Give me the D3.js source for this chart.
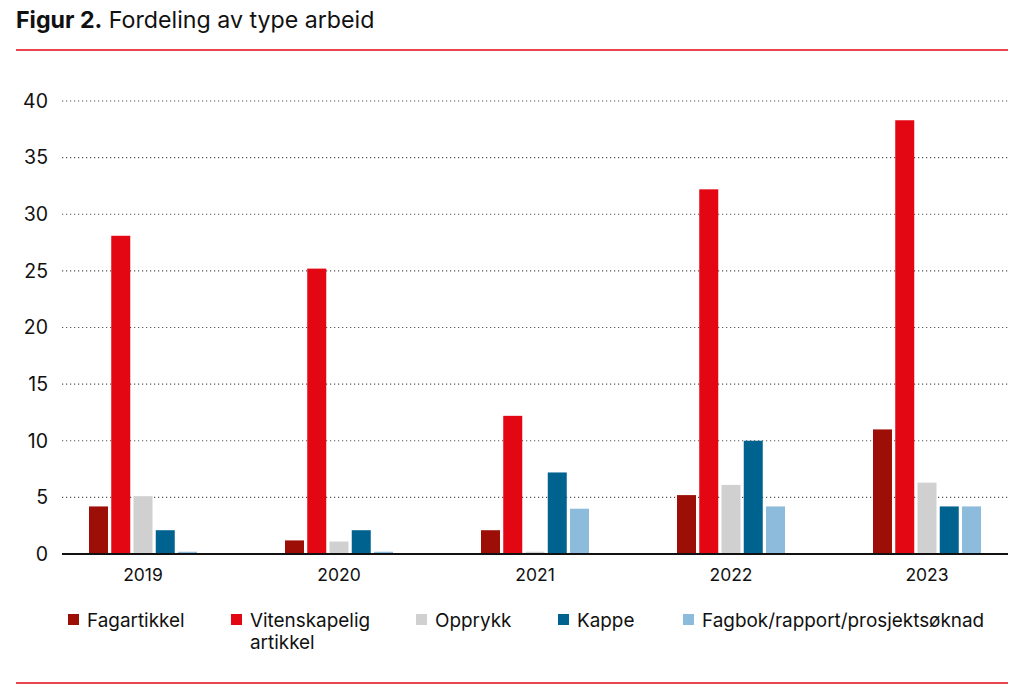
<!DOCTYPE html>
<html>
<head>
<meta charset="utf-8">
<script src="https://cdn.jsdelivr.net/npm/d3@7"></script>
<style>
  body { margin: 0; background: #fff; }
  text { font-family: Inter, "Noto Sans", sans-serif; fill: #111; }
</style>
</head>
<body>
<svg id="chart"></svg>
<script>
const years = ["2019", "2020", "2021", "2022", "2023"];
const series = ["Fagartikkel", "Vitenskapelig artikkel", "Opprykk", "Kappe", "Fagbok/rapport/prosjektsøknad"];
const fagartikkel = [4.2, 1.2, 2.1, 5.2, 11.0];
const vitenskapelig = [28.1, 25.2, 12.2, 32.2, 38.3];
const opprykk = [5.1, 1.1, 0.2, 6.1, 6.3];
const kappe = [2.1, 2.1, 7.2, 10.0, 4.2];
const fagbok = [0.2, 0.2, 4.0, 4.2, 4.2];
const yTicks = [0, 5, 10, 15, 20, 25, 30, 35, 40];
const colors = ["#9c0e06", "#e30613", "#d0d0d0", "#00638f", "#8cbbdc"];

const values = [fagartikkel, vitenskapelig, opprykk, kappe, fagbok];
const data = years.map((y, i) => ({
  year: y,
  vals: series.map((s, j) => ({ key: s, value: values[j][i] }))
}));

const width = 1024, height = 697;
const svg = d3.select("#chart").attr("width", width).attr("height", height);

// title + rules
const title = svg.append("text").attr("x", 16).attr("y", 28).style("font-size", "23.2px");
title.append("tspan").attr("font-weight", "bold").text("Figur 2.");
title.append("tspan").text(" Fordeling av type arbeid");
svg.append("line").attr("x1", 16).attr("x2", 1008).attr("y1", 50).attr("y2", 50)
  .attr("stroke", "#e30613").attr("stroke-width", 1.5);
svg.append("line").attr("x1", 16).attr("x2", 1008).attr("y1", 683).attr("y2", 683)
  .attr("stroke", "#e30613").attr("stroke-width", 1.5);

const axisLeft = 62, axisRight = 1008;

const y = d3.scaleLinear().domain([0, 40]).range([554, 101]);
const x0 = d3.scaleBand().domain(years).range([45, 1025]);
const x1 = d3.scaleBand().domain(series).range([0, 108]).paddingInner(0.146);
const groupOffset = (x0.bandwidth() - 108) / 2;

// gridlines
svg.append("g").selectAll("line")
  .data(yTicks.filter(t => t > 0))
  .join("line")
  .attr("x1", axisLeft).attr("x2", axisRight)
  .attr("y1", d => y(d)).attr("y2", d => y(d))
  .attr("stroke", "#555").attr("stroke-width", 1.2)
  .attr("stroke-dasharray", "1.2,2.8");

// y axis labels
const yAxis = d3.axisLeft(y).tickValues(yTicks).tickSize(0).tickPadding(14);
const yg = svg.append("g").attr("transform", `translate(${axisLeft},0)`).call(yAxis);
yg.select(".domain").remove();
yg.selectAll("text").style("font-size", "19.5px").attr("font-family", "Inter, sans-serif");

// bars
svg.append("g").selectAll("g")
  .data(data)
  .join("g")
  .attr("transform", d => `translate(${x0(d.year) + groupOffset},0)`)
  .selectAll("rect")
  .data(d => d.vals)
  .join("rect")
  .attr("x", d => x1(d.key))
  .attr("width", x1.bandwidth())
  .attr("y", d => y(d.value))
  .attr("height", d => y(0) - y(d.value))
  .attr("fill", (d, i) => colors[i]);

// x axis
const xAxis = d3.axisBottom(x0).tickSize(0).tickPadding(15);
const xg = svg.append("g").attr("transform", `translate(0,${y(0)})`).call(xAxis);
xg.select(".domain").remove();
xg.selectAll("text").style("font-size", "17.5px").attr("font-family", "Inter, sans-serif");
svg.append("line").attr("x1", axisLeft).attr("x2", axisRight)
  .attr("y1", y(0)).attr("y2", y(0)).attr("stroke", "#111").attr("stroke-width", 2);

// legend
const legendX = [68, 231, 416, 558, 683];
const legend = svg.append("g").selectAll("g")
  .data(series)
  .join("g")
  .attr("transform", (d, i) => `translate(${legendX[i]},614)`);
legend.append("rect").attr("width", 11).attr("height", 11).attr("fill", (d, i) => colors[i]);
legend.append("text")
  .attr("x", 19).attr("y", 13)
  .style("font-size", "18.9px")
  .each(function (d) {
    const parts = d === "Vitenskapelig artikkel" ? ["Vitenskapelig", "artikkel"] : [d];
    d3.select(this).selectAll("tspan").data(parts).join("tspan")
      .attr("x", 19).attr("dy", (p, k) => k === 0 ? 0 : 22).text(p => p);
  });
</script>
</body>
</html>
